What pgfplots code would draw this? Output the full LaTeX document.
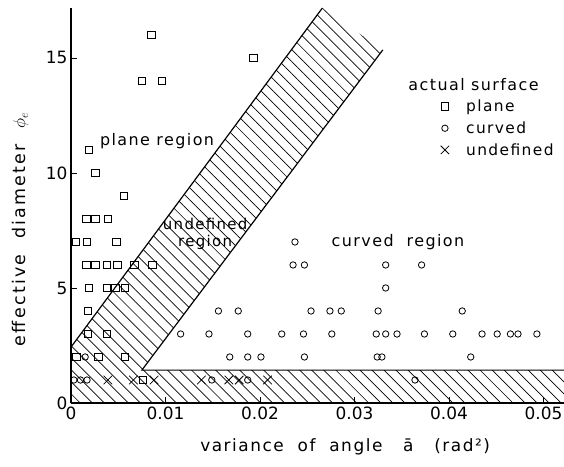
\documentclass[border=0pt]{standalone}
\usepackage{pgfplots}
\pgfplotsset{compat=1.18}
\usepackage{fontspec}
\setmainfont{DejaVu Sans}
\newfontfamily\spc{DejaVu Sans}[LetterSpace=9]
\newfontfamily\spcw{DejaVu Sans}[LetterSpace=13]
\usetikzlibrary{patterns.meta}
\begin{document}
\begin{tikzpicture}
\path[use as bounding box] (-71bp,-64bp) rectangle (493bp,403bp);
\begin{axis}[
  at={(0,0)}, anchor=south west,
  scale only axis, width=493bp, height=395bp,
  xmin=0, xmax=0.05217, ymin=0, ymax=17.17,
  enlargelimits=false,
  scaled x ticks=false,
  axis x line*=bottom, axis y line*=left,
  axis line style={line width=1.1pt,-},
  tick align=inside, major tick length=6bp,
  tick style={line width=0.8pt, black},
  xtick={0,0.01,0.02,0.03,0.04,0.05},
  xticklabels={0,0.01,0.02,0.03,0.04,0.05},
  ytick={0,5,10,15},
  /pgf/number format/assume math mode=true,
  tick label style={font=\fontsize{17}{20}\selectfont},
  xlabel={variance\ \ of\ \ angle\ \ \ ā\ \ \ (rad²)},
  ylabel={effective\ \ diameter\ \ $\phi_{e}$},
  xlabel style={font=\spc\fontsize{17}{20}\selectfont, at={(axis description cs:0.556,-0.111)}, anchor=center},
  ylabel style={font=\spcw\fontsize{17.5}{21}\selectfont, at={(axis description cs:-0.103,0.44)}, anchor=center},
  clip=false,
  legend style={at={(axis cs:0.0391,13.27)}, anchor=north west, draw=none, fill=none, inner sep=0pt,
    font=\spc\fontsize{15.5}{19}\selectfont, row sep=4.5bp,
    nodes={inner xsep=0pt},
    /tikz/every odd column/.append style={column sep=4.5bp}},
  legend cell align=left,
  legend image code/.code={\draw[#1] plot coordinates {(-16.5bp,0bp)}; \path (0bp,0bp);},
]
% hatched regions
\addplot[draw=none, pattern={Lines[angle=-45, distance=8.5bp, line width=0.7pt]}, forget plot]
  coordinates {(0,0) (0,2.43) (0.0266,17.17) (0.0330,15.35) (0.0075,1.43) (0.05217,1.43) (0.05217,0) (0,0)};
\addplot[black, line width=1.2pt, forget plot] coordinates {(0,2.43) (0.0266,17.17)};
\addplot[black, line width=1.2pt, forget plot] coordinates {(0.0330,15.35) (0.0075,1.43) (0.05217,1.43)};
% plane
\addplot[only marks, mark=square, mark size=3.8bp, mark options={line width=0.8pt, fill=white}] coordinates {
(0.0085,16) (0.0075,14) (0.0096,14) (0.0193,15) (0.0019,11) (0.0026,10) (0.0056,9)
(0.0016,8) (0.0026,8) (0.0039,8)
(0.0005,7) (0.0017,7) (0.0048,7)
(0.0016,6) (0.0026,6) (0.0038,6) (0.0049,6) (0.0067,6) (0.0086,6)
(0.0019,5) (0.0038,5) (0.0047,5) (0.0057,5)
(0.0018,4)
(0.0018,3) (0.0038,3)
(0.0006,2) (0.0029,2) (0.0057,2)
(0.0076,1)
};
\addlegendentry{plane}
% curved
\addplot[only marks, mark=o, mark size=3.2bp, mark options={line width=0.8pt, fill=white}] coordinates {
(0.0003,1) (0.0010,1) (0.0017,1)
(0.0015,2)
(0.0149,1) (0.0187,1) (0.0364,1)
(0.0116,3) (0.0146,3) (0.0187,3) (0.0223,3) (0.0246,3) (0.0276,3) (0.0323,3) (0.0333,3) (0.0345,3) (0.0374,3) (0.0404,3) (0.0435,3) (0.0451,3) (0.0465,3) (0.0473,3) (0.0493,3)
(0.0168,2) (0.0187,2) (0.0201,2) (0.0247,2) (0.0324,2) (0.0329,2) (0.0423,2)
(0.0156,4) (0.0177,4) (0.0254,4) (0.0274,4) (0.0286,4) (0.0325,4) (0.0414,4)
(0.0333,5)
(0.0235,6) (0.0247,6) (0.0333,6) (0.0371,6)
(0.0237,7)
};
\addlegendentry{curved}
% undefined
\addplot[only marks, mark=x, mark size=6bp, mark options={line width=0.8pt}] coordinates {
(0.0039,1) (0.0066,1) (0.0088,1) (0.0138,1) (0.0167,1) (0.0178,1) (0.0208,1)
};
\addlegendentry{undefined}
% texts
\node[anchor=west, font=\spc\fontsize{16}{19}\selectfont] at (axis cs:0.0027,11.4) {plane region};
\node[align=center, font=\spc\fontsize{15}{18}\selectfont, inner sep=0pt] at (axis cs:0.0142,7.35) {undefined\\region};
\node[font=\spc\fontsize{16}{19}\selectfont] at (axis cs:0.0346,7.0) {curved\ \ region};
\node[font=\spc\fontsize{16}{19}\selectfont] at (axis cs:0.0426,13.83) {actual surface};
\end{axis}
\end{tikzpicture}
\end{document}
